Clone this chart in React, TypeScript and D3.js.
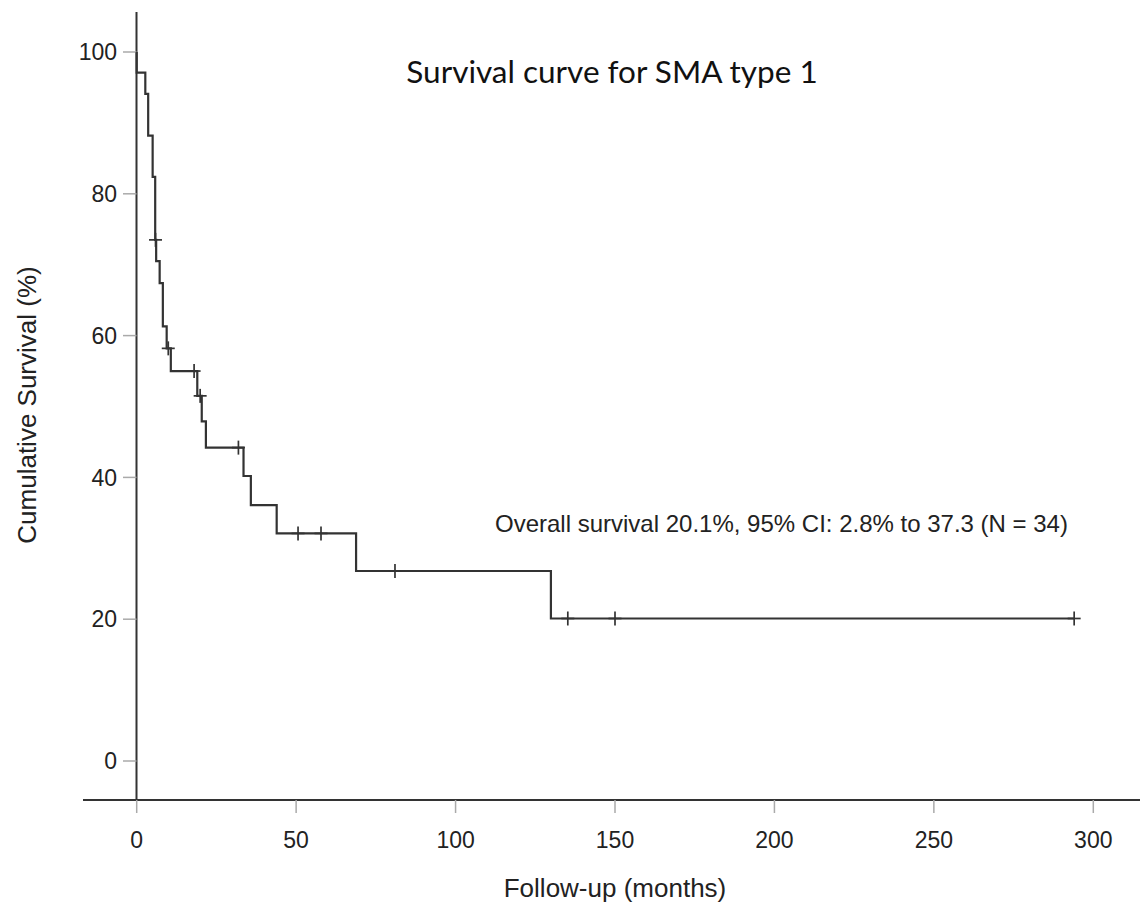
// Curva de supervivencia Kaplan-Meier, AME tipo 1
import * as d3 from 'd3'

// tiempos (meses) donde cae la curva y nivel de supervivencia (%) tras cada caída
const stepTimes = [0, 2.7, 3.6, 5.0, 5.8, 6.1, 7.2, 8.2, 9.4, 10.7, 19.0, 20.4, 21.7, 33.5, 35.8, 43.9, 68.8, 129.9]
const stepSurvival = [97.1, 94.1, 88.2, 82.4, 73.5, 70.5, 67.4, 61.3, 58.2, 55.0, 51.5, 47.9, 44.2, 40.2, 36.1, 32.1, 26.8, 20.1]
// casos censurados (meses)
const censorTimes = [5.9, 9.9, 18.0, 19.9, 31.9, 50.6, 57.8, 81.0, 135.2, 150.0, 294.0]

const xTicks = [0, 50, 100, 150, 200, 250, 300]
const yTicks = [0, 20, 40, 60, 80, 100]

const title = 'Survival curve for SMA type 1'
const note = 'Overall survival 20.1%, 95% CI: 2.8% to 37.3 (N = 34)'

export default function App() {
  const width = 1140
  const height = 911
  const x = d3.scaleLinear().domain([0, 300]).range([136.7, 1093.3])
  const y = d3.scaleLinear().domain([0, 100]).range([761, 52])
  const axisY = 800
  const axisX = 136.5

  const lastT = censorTimes[censorTimes.length - 1]
  const pts: [number, number][] = [[0, 100]]
  stepTimes.forEach((t, i) => pts.push([t, stepSurvival[i]]))
  pts.push([lastT, stepSurvival[stepSurvival.length - 1]])

  const line = d3.line<[number, number]>()
    .x(d => x(d[0]))
    .y(d => y(d[1]))
    .curve(d3.curveStepAfter)

  // nivel de la curva en el momento de la censura
  const levelAt = (t: number) => {
    let s = 100
    stepTimes.forEach((st, i) => { if (st <= t) s = stepSurvival[i] })
    return s
  }

  const font = 'Arial, "Liberation Sans", sans-serif'
  const ink = '#222'

  return (
    <svg width={width} height={height} style={{ position: 'absolute', left: 0, top: 0, background: '#fff' }}>
      <rect width={width} height={height} fill="#fff" />

      {/* ejes */}
      <line x1={axisX} x2={axisX} y1={12} y2={axisY} stroke="#333" strokeWidth={2} />
      <line x1={83} x2={width} y1={axisY} y2={axisY} stroke="#333" strokeWidth={2} />

      {yTicks.map(v => (
        <g key={'y' + v}>
          <line x1={123} x2={axisX} y1={y(v)} y2={y(v)} stroke="#aaa" strokeWidth={1.5} />
          <text x={117} y={y(v)} dy="0.36em" textAnchor="end" fontFamily={font} fontSize={23} fill={ink}>{v}</text>
        </g>
      ))}
      {xTicks.map(v => (
        <g key={'x' + v}>
          <line x1={x(v)} x2={x(v)} y1={axisY} y2={axisY + 13} stroke="#aaa" strokeWidth={1.5} />
          <text x={x(v)} y={848} textAnchor="middle" fontFamily={font} fontSize={23} fill={ink}>{v}</text>
        </g>
      ))}

      {/* curva */}
      <path d={line(pts) || ''} fill="none" stroke="#333" strokeWidth={2.2} />

      {/* censuras */}
      {censorTimes.map((t, i) => {
        const cx = x(t)
        const cy = y(levelAt(t))
        return (
          <g key={'c' + i} stroke="#333" strokeWidth={1.7}>
            <line x1={cx - 6.5} x2={cx + 6.5} y1={cy} y2={cy} />
            <line x1={cx} x2={cx} y1={cy - 7} y2={cy + 7} />
          </g>
        )
      })}

      <text x={612} y={83} textAnchor="middle" fontFamily="Lato, 'Open Sans', sans-serif" fontSize={31.5} fill="#111">{title}</text>
      <text x={495} y={532} fontFamily={font} fontSize={24} fill={ink}>{note}</text>

      <text x={615} y={897} textAnchor="middle" fontFamily={font} fontSize={26} fill={ink}>Follow-up (months)</text>
      <text transform="translate(36,405) rotate(-90)" textAnchor="middle" fontFamily={font} fontSize={26} fill={ink}>Cumulative Survival (%)</text>
    </svg>
  )
}
